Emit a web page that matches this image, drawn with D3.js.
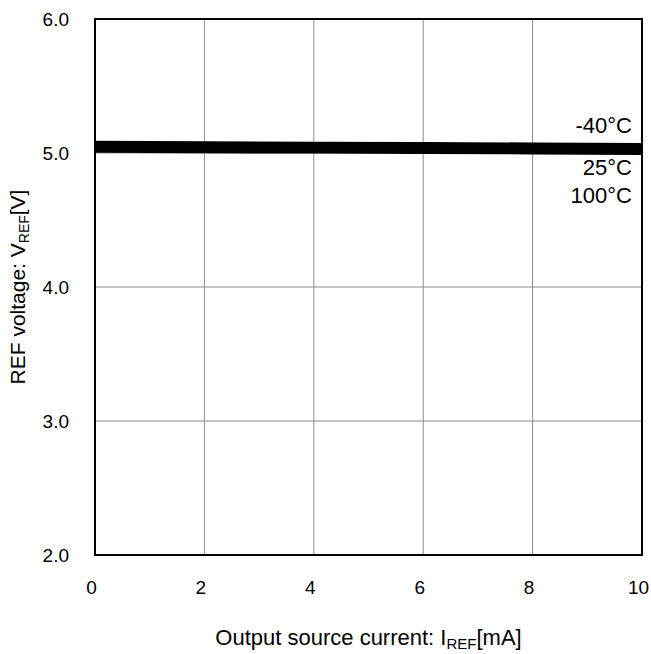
<!DOCTYPE html>
<html>
<head>
<meta charset="utf-8">
<script src="https://cdn.jsdelivr.net/npm/d3@7"></script>
<style>
  body { margin: 0; background: #fff; }
  svg text { font-family: "Liberation Sans", Arial, sans-serif; fill: #000; }
</style>
</head>
<body>
<div id="chart"></div>
<script>
// output source current [mA]
var current = [0, 2, 4, 6, 8, 10];
// REF voltage [V] per temperature
var temps = ["-40°C", "25°C", "100°C"];
var v_m40 = [5.072, 5.069, 5.066, 5.063, 5.060, 5.056];
var v_25 = [5.045, 5.042, 5.039, 5.036, 5.033, 5.030];
var v_100 = [5.020, 5.017, 5.014, 5.011, 5.008, 5.004];
var xTicks = [0, 2, 4, 6, 8, 10];
var yTicks = [2.0, 3.0, 4.0, 5.0, 6.0];

var series = [v_m40, v_25, v_100];

var width = 651, height = 654;
var margin = {top: 19, right: 9, bottom: 99, left: 95};
var w = width - margin.left - margin.right,
    h = height - margin.top - margin.bottom;

var x = d3.scaleLinear().domain([0, 10]).range([0, w]);
var y = d3.scaleLinear().domain([2, 6]).range([h, 0]);

var svg = d3.select("#chart").append("svg")
    .attr("width", width)
    .attr("height", height)
  .append("g")
    .attr("transform", "translate(" + margin.left + "," + margin.top + ")");

// grid
svg.selectAll(".vgrid")
    .data(xTicks.slice(1, -1))
  .enter().append("line")
    .attr("x1", function(d) { return x(d); })
    .attr("x2", function(d) { return x(d); })
    .attr("y1", 0).attr("y2", h)
    .style("stroke", "#8c8c8c").style("stroke-width", 1);

svg.selectAll(".hgrid")
    .data(yTicks.slice(1, -1))
  .enter().append("line")
    .attr("y1", function(d) { return y(d); })
    .attr("y2", function(d) { return y(d); })
    .attr("x1", 0).attr("x2", w)
    .style("stroke", "#8c8c8c").style("stroke-width", 1);

// curves
var line = d3.line()
    .x(function(d, i) { return x(current[i]); })
    .y(function(d) { return y(d); });

svg.selectAll(".curve")
    .data(series)
  .enter().append("path")
    .attr("d", line)
    .style("fill", "none")
    .style("stroke", "#000")
    .style("stroke-width", 5);

// frame
svg.append("rect")
    .attr("width", w).attr("height", h)
    .style("fill", "none").style("stroke", "#000").style("stroke-width", 2);

// axes (labels only)
var xAxis = d3.axisBottom(x).tickValues(xTicks).tickSize(0).tickPadding(0)
    .tickFormat(d3.format("d"));
var gx = svg.append("g")
    .attr("transform", "translate(-4," + (h + 39) + ")")
    .call(xAxis);
gx.select(".domain").remove();

var yAxis = d3.axisLeft(y).tickValues(yTicks).tickSize(0).tickPadding(26)
    .tickFormat(d3.format(".1f"));
var gy = svg.append("g").call(yAxis);
gy.select(".domain").remove();

svg.selectAll(".tick text")
    .style("font-size", "19px")
    .style("font-family", "Liberation Sans, Arial, sans-serif");
gy.selectAll(".tick text").attr("dy", "0.35em");
gx.selectAll(".tick text").attr("dy", "0");

// series labels
var labelY = [114, 156, 184];
svg.selectAll(".lbl")
    .data(temps)
  .enter().append("text")
    .attr("x", w - 10)
    .attr("y", function(d, i) { return labelY[i]; })
    .attr("text-anchor", "end")
    .style("font-size", "22px")
    .text(function(d) { return d; });

// x title
var xt = svg.append("text")
    .attr("x", w / 2)
    .attr("y", h + 90)
    .attr("text-anchor", "middle")
    .style("font-size", "22px");
xt.append("tspan").text("Output source current: I");
xt.append("tspan").attr("dy", 4).style("font-size", "15px").text("REF");
xt.append("tspan").attr("dy", -4).text("[mA]");

// y title
var yt = svg.append("text")
    .attr("transform", "translate(" + (-70) + "," + (h / 2) + ") rotate(-90)")
    .attr("text-anchor", "middle")
    .style("font-size", "21px");
yt.append("tspan").text("REF voltage: V");
yt.append("tspan").attr("dy", 4).style("font-size", "14px").text("REF");
yt.append("tspan").attr("dy", -4).text("[V]");
</script>
</body>
</html>
